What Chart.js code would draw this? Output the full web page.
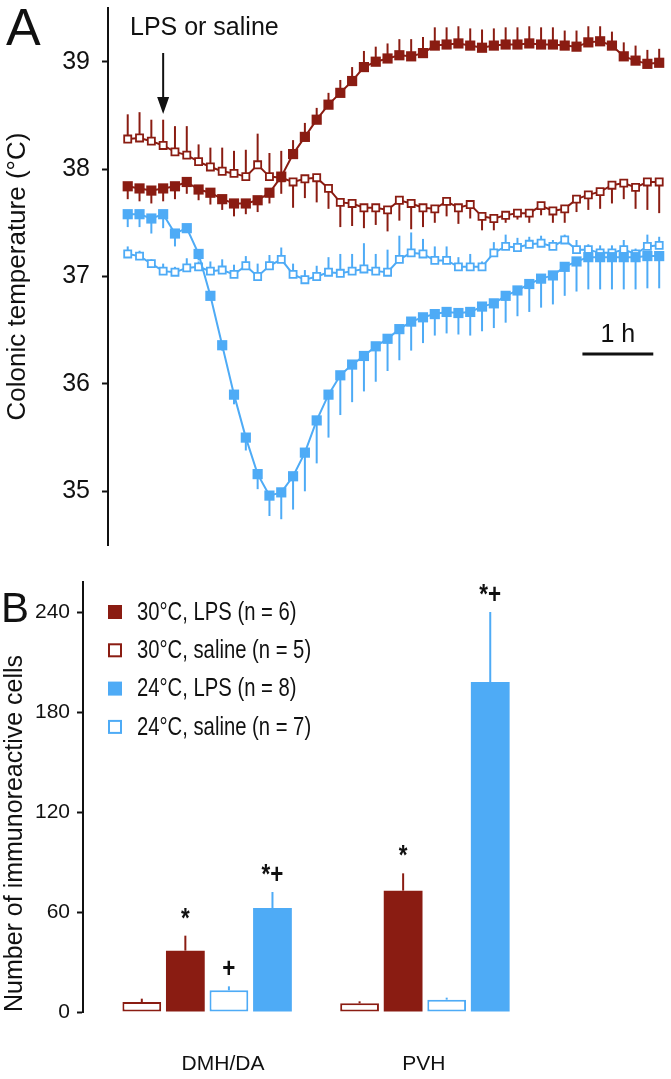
<!DOCTYPE html>
<html>
<head>
<meta charset="utf-8">
<script src="https://cdn.jsdelivr.net/npm/chart.js@4.4.1/dist/chart.umd.min.js"></script>
<style>
  html, body { margin: 0; padding: 0; background: #fff; }
  #wrap { position: relative; width: 671px; height: 1079px; }
  canvas { position: absolute; left: 0; }
  #tempChart { top: 0; }
  #cellChart { top: 560px; }
</style>
</head>
<body>
<div id="wrap">
  <canvas id="tempChart" width="671" height="560"></canvas>
  <canvas id="cellChart" width="671" height="519"></canvas>
</div>
<script>
// ---- panel A: colonic temperature, 10 min samples ----
const times = [0, 10, 20, 30, 40, 50, 60, 70, 80, 90, 100, 110, 120, 130, 140, 150, 160, 170, 180, 190,
  200, 210, 220, 230, 240, 250, 260, 270, 280, 290, 300, 310, 320, 330, 340, 350, 360, 370, 380, 390,
  400, 410, 420, 430, 440, 450];

const lps30 = [37.84, 37.82, 37.80, 37.82, 37.84, 37.88, 37.81, 37.78, 37.72, 37.68,
  37.68, 37.71, 37.78, 37.93, 38.14, 38.30, 38.46, 38.60, 38.71, 38.82,
  38.95, 39.00, 39.03, 39.06, 39.05, 39.08, 39.15, 39.16, 39.17, 39.15,
  39.13, 39.15, 39.16, 39.16, 39.17, 39.16, 39.16, 39.15, 39.14, 39.18,
  39.19, 39.15, 39.05, 39.01, 38.98, 38.99];
// signed SEM: + drawn upward, - drawn downward
const lps30Err = [-0.12, -0.12, -0.12, -0.12, -0.12, -0.11, -0.10, -0.11, -0.10, -0.12,
  -0.10, -0.11, -0.10, -0.16, 0.13, 0.13, 0.11, 0.11, 0.12, 0.13,
  0.15, 0.14, 0.14, 0.15, 0.16, 0.15, 0.17, 0.16, 0.16, 0.16,
  0.17, 0.16, 0.16, 0.16, 0.16, 0.16, 0.16, 0.14, 0.15, 0.15,
  0.14, 0.13, 0.13, 0.14, 0.13, 0.13];

const sal30 = [38.28, 38.29, 38.26, 38.22, 38.16, 38.13, 38.07, 38.02, 37.98, 37.96,
  37.93, 38.04, 37.93, 37.92, 37.88, 37.91, 37.92, 37.82, 37.69, 37.68,
  37.64, 37.64, 37.62, 37.71, 37.68, 37.64, 37.63, 37.70, 37.64, 37.67,
  37.56, 37.54, 37.57, 37.59, 37.59, 37.66, 37.61, 37.63, 37.72, 37.76,
  37.79, 37.85, 37.87, 37.83, 37.88, 37.88];
const sal30Err = [0.23, 0.24, 0.20, 0.24, 0.24, 0.27, 0.16, 0.18, 0.22, 0.21,
  0.25, 0.29, 0.22, 0.25, -0.24, -0.18, -0.23, -0.19, -0.23, -0.21,
  -0.19, -0.16, -0.20, -0.19, -0.24, -0.18, -0.13, -0.14, -0.15, -0.13,
  -0.13, -0.11, -0.07, -0.06, -0.09, -0.09, -0.11, -0.13, -0.12, -0.14,
  -0.16, -0.17, -0.15, -0.20, -0.26, -0.29];

const lps24 = [37.58, 37.58, 37.54, 37.58, 37.40, 37.45, 37.21, 36.82, 36.36, 35.90,
  35.50, 35.16, 34.96, 34.99, 35.14, 35.36, 35.66, 35.90, 36.08, 36.18,
  36.26, 36.35, 36.42, 36.51, 36.58, 36.62, 36.65, 36.67, 36.66, 36.67,
  36.72, 36.75, 36.82, 36.87, 36.93, 36.98, 37.01, 37.09, 37.14, 37.18,
  37.18, 37.18, 37.18, 37.18, 37.19, 37.19];
const lps24Err = [-0.12, -0.12, -0.14, -0.13, -0.12, -0.04, -0.06, -0.03, -0.05, -0.09,
  -0.12, -0.14, -0.19, -0.25, -0.31, -0.36, -0.40, -0.40, -0.37, -0.35,
  -0.33, -0.33, -0.30, -0.29, -0.27, -0.24, -0.20, -0.20, -0.20, -0.22,
  -0.23, -0.23, -0.25, -0.24, -0.26, -0.27, -0.27, -0.27, -0.28, -0.30,
  -0.30, -0.30, -0.30, -0.30, -0.30, -0.30];

const sal24 = [37.21, 37.19, 37.12, 37.05, 37.04, 37.08, 37.09, 37.05, 37.06, 37.02,
  37.10, 37.00, 37.10, 37.16, 37.02, 36.97, 37.00, 37.04, 37.03, 37.05,
  37.07, 37.05, 37.04, 37.16, 37.22, 37.21, 37.15, 37.15, 37.09, 37.09,
  37.09, 37.22, 37.28, 37.27, 37.30, 37.31, 37.28, 37.34, 37.25, 37.25,
  37.22, 37.22, 37.25, 37.21, 37.28, 37.29];
const sal24Err = [0.07, 0.05, 0.04, 0.07, 0.05, 0.09, 0.05, 0.09, 0.10, 0.09,
  0.09, 0.12, 0.10, 0.11, 0.10, 0.09, 0.10, 0.14, 0.18, 0.16,
  0.24, 0.16, 0.21, 0.22, 0.19, 0.14, 0.13, 0.13, 0.09, 0.12,
  0.05, 0.10, 0.11, 0.09, 0.07, 0.07, 0.06, 0.05, 0.09, 0.05,
  0.07, 0.07, 0.09, 0.05, 0.11, 0.08];

const tempTicks = [35, 36, 37, 38, 39];
const injectionTime = 30;   // min, arrow
const scaleBarStart = 385;  // min
const scaleBarLength = 60;  // min = 1 h

// ---- panel B: immunoreactive cells ----
const regions = ["DMH/DA", "PVH"];
const groupLabels = ["30°C, saline (n = 5)", "30°C, LPS (n = 6)", "24°C, saline (n = 7)", "24°C, LPS (n = 8)"];
const cellsSal30 = [6, 5.2];
const cellsSal30Err = [2, 1.2];
const cellsLps30 = [36.8, 72.8];
const cellsLps30Err = [9, 10.4];
const cellsSal24 = [13, 7.4];
const cellsSal24Err = [2.4, 1.2];
const cellsLps24 = [62.4, 198];
const cellsLps24Err = [9.6, 42];
const marksSal30 = ["", ""];
const marksLps30 = ["*", "*"];
const marksSal24 = ["+", ""];
const marksLps24 = ["*+", "*+"];
const cellTicks = [0, 60, 120, 180, 240];
const legendOrder = [1, 0, 3, 2];

const brown = "#8a1c12";
const blue = "#4eabf6";
const ink = "#111";
const sans = "'Liberation Sans', Arial, Helvetica, sans-serif";

function xy(vals) {
  return vals.map((v, i) => ({ x: times[i], y: v }));
}

// draw text squeezed horizontally (the panel B lettering is condensed)
function narrowText(ctx, text, x, y, squeeze) {
  ctx.save();
  ctx.translate(x, y);
  ctx.scale(squeeze, 1);
  ctx.fillText(text, 0, 0);
  ctx.restore();
}

const tempErrorBars = {
  id: "tempErrorBars",
  beforeDatasetsDraw(chart) {
    const ctx = chart.ctx;
    const yScale = chart.scales.y;
    chart.data.datasets.forEach((ds, i) => {
      const meta = chart.getDatasetMeta(i);
      ctx.save();
      ctx.strokeStyle = ds.borderColor;
      ctx.lineWidth = 2;
      meta.data.forEach((pt, j) => {
        const top = yScale.getPixelForValue(ds.data[j].y + ds.errors[j]);
        ctx.beginPath();
        ctx.moveTo(pt.x, pt.y);
        ctx.lineTo(pt.x, top);
        ctx.stroke();
      });
      ctx.restore();
    });
  }
};

const tempNotes = {
  id: "tempNotes",
  afterDraw(chart) {
    const ctx = chart.ctx;
    const xScale = chart.scales.x;
    ctx.save();
    ctx.fillStyle = ink;
    ctx.strokeStyle = ink;
    ctx.textBaseline = "alphabetic";
    ctx.font = "52px " + sans;
    ctx.fillText("A", 6, 45);
    ctx.font = "25px " + sans;
    ctx.fillText("LPS or saline", 130, 35);

    // injection arrow
    const ax = xScale.getPixelForValue(injectionTime);
    ctx.lineWidth = 2;
    ctx.beginPath();
    ctx.moveTo(ax, 53);
    ctx.lineTo(ax, 100);
    ctx.stroke();
    ctx.beginPath();
    ctx.moveTo(ax - 6, 97);
    ctx.lineTo(ax + 6, 97);
    ctx.lineTo(ax, 114);
    ctx.closePath();
    ctx.fill();

    // 1 h scale bar
    const x0 = xScale.getPixelForValue(scaleBarStart);
    const x1 = xScale.getPixelForValue(scaleBarStart + scaleBarLength);
    ctx.lineWidth = 3;
    ctx.beginPath();
    ctx.moveTo(x0, 354);
    ctx.lineTo(x1, 354);
    ctx.stroke();
    ctx.textAlign = "center";
    ctx.fillText("1 h", (x0 + x1) / 2, 342);
    ctx.restore();
  }
};

function tempSet(label, vals, errs, color, filled) {
  return {
    label: label,
    data: xy(vals),
    errors: errs,
    borderColor: color,
    borderWidth: 2,
    pointStyle: "rect",
    pointRadius: filled ? 7.2 : 5,
    pointBorderWidth: filled ? 0 : 1.8,
    pointBackgroundColor: filled ? color : "#fff",
    pointBorderColor: color,
    fill: false,
    tension: 0,
    order: filled ? 0 : 1
  };
}

new Chart(document.getElementById("tempChart"), {
  type: "line",
  data: {
    datasets: [
      tempSet("30°C, LPS", lps30, lps30Err, brown, true),
      tempSet("30°C, saline", sal30, sal30Err, brown, false),
      tempSet("24°C, LPS", lps24, lps24Err, blue, true),
      tempSet("24°C, saline", sal24, sal24Err, blue, false)
    ]
  },
  options: {
    responsive: false,
    animation: false,
    devicePixelRatio: 1,
    layout: { autoPadding: false, padding: { top: 8, bottom: 15, left: 0, right: 0 } },
    plugins: { legend: { display: false }, tooltip: { enabled: false } },
    scales: {
      x: { type: "linear", display: false, min: -16.7, max: 460 },
      y: {
        min: 34.5,
        max: 39.5,
        afterBuildTicks: s => { s.ticks = tempTicks.map(v => ({ value: v })); },
        afterFit: s => { s.width = 108; s.paddingTop = 0; s.paddingBottom = 0; },
        border: { display: true, color: ink, width: 2 },
        grid: { drawOnChartArea: false, drawTicks: true, tickLength: 6, tickWidth: 2, tickColor: ink },
        ticks: { color: ink, font: { family: sans, size: 25 }, padding: 12 },
        title: {
          display: true,
          text: "Colonic temperature (°C)",
          color: ink,
          font: { family: sans, size: 26 },
          padding: { top: 2, bottom: 0 }
        }
      }
    }
  },
  plugins: [tempErrorBars, tempNotes]
});

// ---- panel B ----
function barSet(label, vals, errs, marks, color, filled) {
  return {
    label: label,
    data: vals.map((v, i) => ({ x: i + 1, y: v })),
    errors: errs,
    marks: marks,
    backgroundColor: filled ? color : "#fff",
    borderColor: color,
    borderWidth: filled ? 0 : 2,
    borderSkipped: false,
    barPercentage: 0.89,
    categoryPercentage: 0.8
  };
}

const cellErrorBars = {
  id: "cellErrorBars",
  afterDatasetsDraw(chart) {
    const ctx = chart.ctx;
    const yScale = chart.scales.y;
    chart.data.datasets.forEach((ds, i) => {
      const meta = chart.getDatasetMeta(i);
      meta.data.forEach((bar, j) => {
        const top = yScale.getPixelForValue(ds.data[j].y + ds.errors[j]);
        ctx.save();
        ctx.strokeStyle = ds.borderColor;
        ctx.lineWidth = 2;
        ctx.beginPath();
        ctx.moveTo(bar.x, bar.y);
        ctx.lineTo(bar.x, top);
        ctx.stroke();
        if (ds.marks[j]) {
          ctx.fillStyle = ink;
          ctx.font = "bold 28px " + sans;
          ctx.textAlign = "center";
          ctx.textBaseline = "alphabetic";
          narrowText(ctx, ds.marks[j], bar.x, top - 9, 0.8);
        }
        ctx.restore();
      });
    });
  }
};

const cellNotes = {
  id: "cellNotes",
  afterDraw(chart) {
    const ctx = chart.ctx;
    ctx.save();
    ctx.fillStyle = ink;
    ctx.textBaseline = "alphabetic";
    ctx.font = "42px " + sans;
    ctx.fillText("B", 1, 62);

    legendOrder.forEach((di, row) => {
      const ds = chart.data.datasets[di];
      const cy = 52 + row * 38.3;
      if (ds.borderWidth) {
        ctx.fillStyle = "#fff";
        ctx.fillRect(109, cy - 6, 12, 12);
        ctx.strokeStyle = ds.borderColor;
        ctx.lineWidth = 2;
        ctx.strokeRect(109, cy - 6, 12, 12);
      } else {
        ctx.fillStyle = ds.backgroundColor;
        ctx.fillRect(108, cy - 7, 14, 14);
      }
      ctx.fillStyle = ink;
      ctx.font = "25px " + sans;
      ctx.textBaseline = "middle";
      narrowText(ctx, ds.label, 137, cy + 1, 0.81);
    });
    ctx.restore();
  }
};

new Chart(document.getElementById("cellChart"), {
  type: "bar",
  data: {
    datasets: [
      barSet(groupLabels[0], cellsSal30, cellsSal30Err, marksSal30, brown, false),
      barSet(groupLabels[1], cellsLps30, cellsLps30Err, marksLps30, brown, true),
      barSet(groupLabels[2], cellsSal24, cellsSal24Err, marksSal24, blue, false),
      barSet(groupLabels[3], cellsLps24, cellsLps24Err, marksLps24, blue, true)
    ]
  },
  options: {
    responsive: false,
    animation: false,
    devicePixelRatio: 1,
    layout: { autoPadding: false, padding: { top: 22, bottom: 0, left: 0, right: 0 } },
    plugins: { legend: { display: false }, tooltip: { enabled: false } },
    scales: {
      x: {
        type: "linear",
        display: false,
        offset: false,
        min: 0.43,
        max: 3.13,
        afterBuildTicks: s => { s.ticks = regions.map((r, i) => ({ value: i + 1 })); }
      },
      regionAxis: {
        type: "linear",
        axis: "x",
        position: "bottom",
        offset: false,
        min: 0.43,
        max: 3.13,
        grid: { display: false, drawTicks: false, offset: false },
        border: { display: false },
        afterBuildTicks: s => { s.ticks = [{ value: 1.073 }, { value: 1.995 }]; },
        afterFit: s => { s.height = 67; s.paddingLeft = 0; s.paddingRight = 0; },
        ticks: {
          color: ink,
          font: { family: sans, size: 21 },
          padding: 40,
          maxRotation: 0,
          callback: (v, i) => regions[i]
        }
      },
      y: {
        min: 0,
        max: 258,
        afterBuildTicks: s => { s.ticks = cellTicks.map(v => ({ value: v })); },
        afterFit: s => { s.width = 83; s.paddingTop = 0; s.paddingBottom = 0; },
        border: { display: true, color: ink, width: 2 },
        grid: { drawOnChartArea: false, drawTicks: true, tickLength: 6, tickWidth: 2, tickColor: ink },
        ticks: { color: ink, font: { family: sans, size: 21 }, padding: 7 },
        title: {
          display: true,
          text: "Number of immunoreactive cells",
          align: "start",
          color: ink,
          font: { family: sans, size: 25 },
          padding: { top: 0, bottom: 0 }
        }
      }
    }
  },
  plugins: [cellErrorBars, cellNotes]
});
</script>
</body>
</html>
